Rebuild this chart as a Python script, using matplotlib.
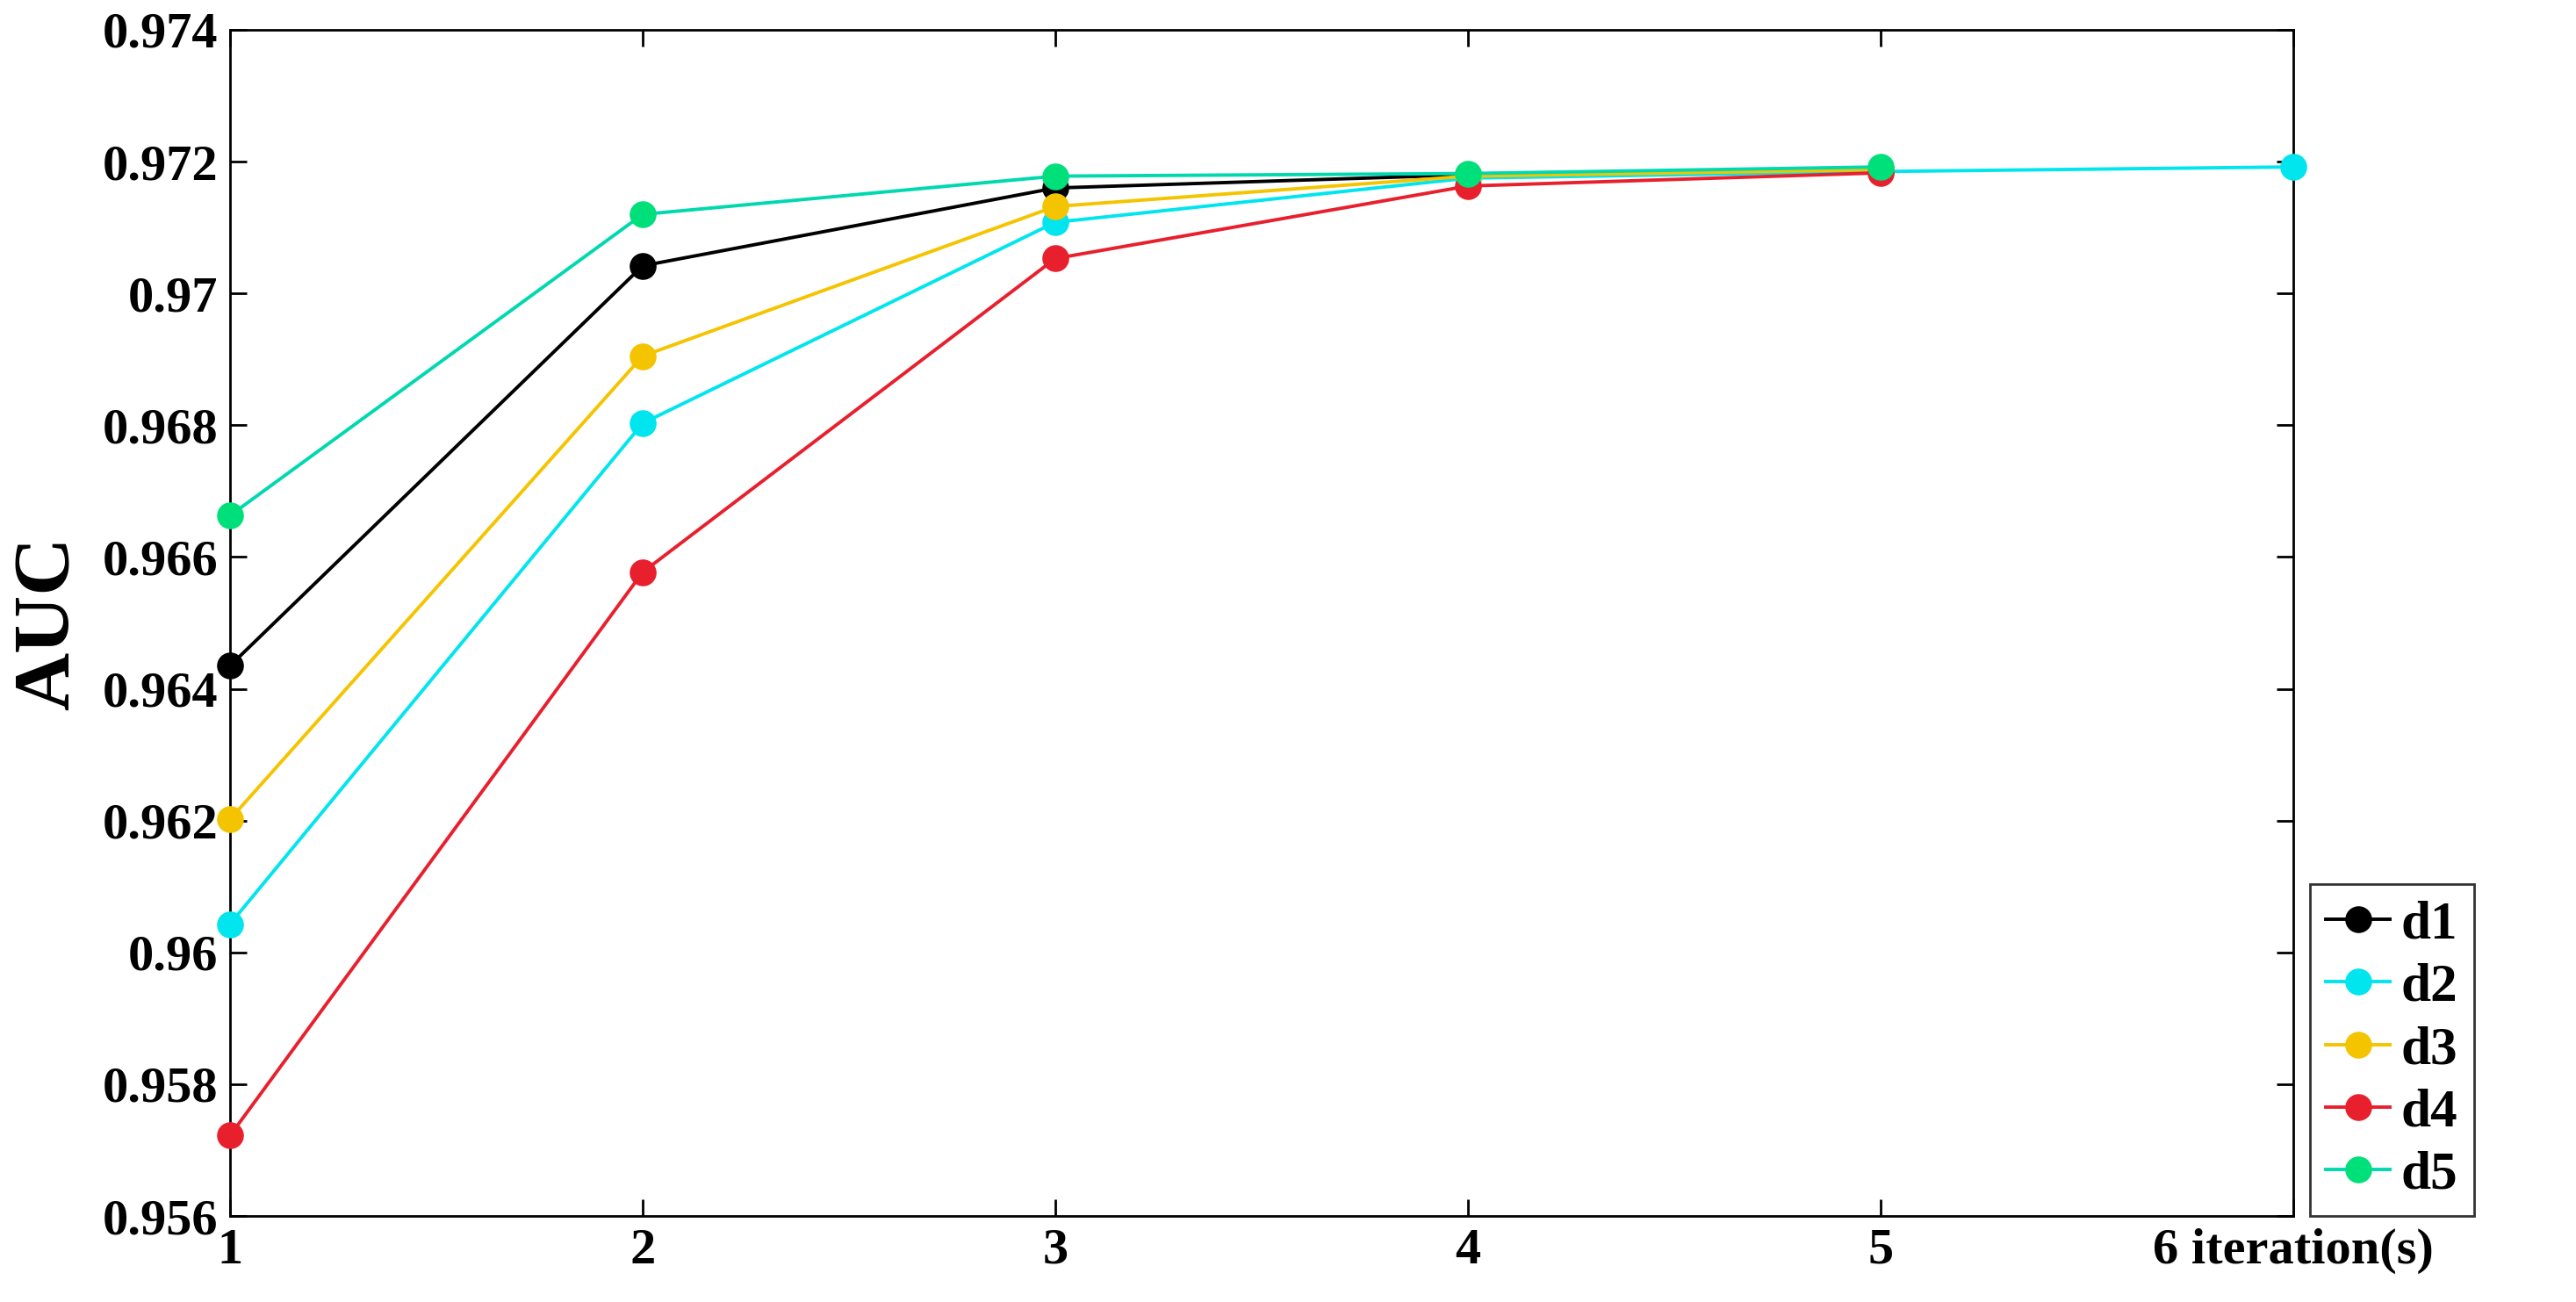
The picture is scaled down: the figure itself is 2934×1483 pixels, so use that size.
import matplotlib
matplotlib.use("Agg")
import matplotlib.pyplot as plt

iters = [1, 2, 3, 4, 5, 6]
d1 = [0.96435, 0.97042, 0.97160, 0.97180, 0.97188]
d2 = [0.96043, 0.96803, 0.97108, 0.97175, 0.97185, 0.97192]
d3 = [0.96202, 0.96905, 0.97132, 0.97178, 0.97188]
d4 = [0.95722, 0.96577, 0.97053, 0.97163, 0.97183]
d5 = [0.96663, 0.97120, 0.97178, 0.97182, 0.97192]
xticklabels = ["1", "2", "3", "4", "5", "6 iteration(s)"]
yticks = [0.956, 0.958, 0.96, 0.962, 0.964, 0.966, 0.968, 0.97, 0.972, 0.974]

plt.rcParams['font.family'] = ['Liberation Serif']
plt.rcParams['font.weight'] = 'bold'
fig = plt.figure(figsize=(29.34, 14.83), dpi=100)
ax = fig.add_axes([262/2934, 1-1385/1483, (2612-262)/2934, (1385-34)/1483])

series = [(d1, '#000000', '#000000', 'd1'),
          (d2, '#00e5ee', '#00e5ee', 'd2'),
          (d3, '#f5c400', '#f5c400', 'd3'),
          (d4, '#e8202e', '#e8202e', 'd4'),
          (d5, '#00d8b0', '#00e07a', 'd5')]
for vals, lc, mc, lab in series:
    ax.plot(iters[:len(vals)], vals, color=lc, lw=2.8, marker='o', ms=21,
            markerfacecolor=mc, markeredgecolor=mc, label=lab, clip_on=False, zorder=3)

ax.set_xlim(1, 6)
ax.set_ylim(0.956, 0.974)
ax.set_xticks(iters)
ax.set_xticklabels(xticklabels)
ax.set_yticks(yticks)
ax.set_yticklabels([f"{v:g}" for v in yticks])
ax.tick_params(direction='in', length=14, width=2, labelsize=42, right=True, top=True, pad=10)
for s in ax.spines.values():
    s.set_linewidth(2)
ax.set_ylabel("AUC", fontsize=66, fontweight='bold', labelpad=14)
leg = ax.legend(loc='lower left', bbox_to_anchor=(1.008, 0.0), fontsize=44, frameon=True,
                fancybox=False, edgecolor='black', handlelength=1.2, handletextpad=0.2,
                borderpad=0.3, labelspacing=0.25, borderaxespad=0)
leg.get_frame().set_linewidth(2)
fig.savefig("out.png", dpi=100)
